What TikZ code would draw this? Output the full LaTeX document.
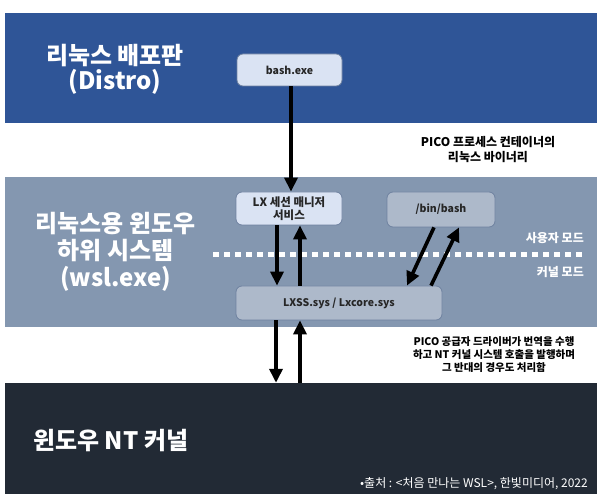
\documentclass[tikz,border=0pt]{standalone}
\usepackage{fontspec}
\setmainfont{Noto Sans CJK KR}
\usetikzlibrary{arrows.meta}
\definecolor{topblue}{HTML}{2F5597}
\definecolor{midslate}{HTML}{8497B0}
\definecolor{kerneldark}{HTML}{222A35}
\definecolor{lightbox}{HTML}{DAE3F3}
\definecolor{greybox}{HTML}{ADB9CA}
\definecolor{boxline}{HTML}{6F82A0}
\tikzset{
  band/.style={rectangle, inner sep=0pt, draw=none},
  procbox/.style={rectangle, rounded corners=6pt, draw=boxline, line width=0.8pt, inner sep=0pt,
    align=center, font=\bfseries\fontsize{10.5}{12}\selectfont, text=black!85},
  bigtitle/.style={align=center, text=white, font=\bfseries\fontsize{24}{25.5}\selectfont, inner sep=0pt},
  note/.style={align=center, text=black, font=\bfseries\fontsize{12}{15}\selectfont, inner sep=0pt},
  modelabel/.style={anchor=east, text=white, font=\bfseries\fontsize{12}{13}\selectfont, inner sep=0pt},
  arr/.style={line width=3.6pt, -{Triangle[width=13pt,length=14pt]}},
}
\begin{document}
\begin{tikzpicture}[x=1pt,y=-1pt]
\useasboundingbox (0,0) rectangle (600,502);
\fill[white] (0,0) rectangle (600,502);
% bands
\node[band, fill=topblue, minimum width=592pt, minimum height=110pt] (distro) at (301,68) {};
\node[band, fill=midslate, minimum width=592pt, minimum height=150pt] (wsl) at (301,252) {};
\node[band, fill=kerneldark, minimum width=592pt, minimum height=111pt] (kernel) at (301,438.5) {};
% band titles
\node[bigtitle] (distrotitle) at (115,69.5) {리눅스 배포판\\(Distro)};
\node[bigtitle, font=\bfseries\fontsize{24}{27}\selectfont] (wsltitle) at (115.5,252) {리눅스용 윈도우\\하위 시스템\\(wsl.exe)};
\node[bigtitle, anchor=west] (kerneltitle) at (33,441) {윈도우 NT 커널};
% boxes
\node[procbox, fill=lightbox, minimum width=105pt, minimum height=32pt] (bash) at (289.5,70) {bash.exe};
\node[procbox, fill=lightbox, minimum width=106pt, minimum height=33pt, font=\bfseries\fontsize{11.5}{12.5}\selectfont] (lx) at (289,208.5) {LX 세션 매니저\\서비스};
\node[procbox, fill=greybox, minimum width=108pt, minimum height=35pt] (binbash) at (441,209.5) {/bin/bash};
\node[procbox, fill=greybox, minimum width=206pt, minimum height=34pt] (lxss) at (339,303) {LXSS.sys / Lxcore.sys};
% mode separator
\coordinate (sepL) at (213,255);
\coordinate (sepR) at (584,255);
\draw[white, line width=5pt, dash pattern=on 6pt off 5pt] (sepL) -- (sepR);
\node[modelabel] (usermode) at (584,238) {사용자 모드};
\node[modelabel] (kernelmode) at (584,272) {커널 모드};
% notes
\node[note] (pico1) at (488,150) {PICO 프로세스 컨테이너의\\리눅스 바이너리};
\node[note, font=\bfseries\fontsize{10.5}{13}\selectfont] (pico2) at (494,355) {PICO 공급자 드라이버가 번역을 수행\\하고 NT 커널 시스템 호출을 발행하며\\그 반대의 경우도 처리함};
\node[anchor=east, text=white, font=\fontsize{12}{13}\selectfont, inner sep=0pt] (source) at (588,484) {•출처 : <처음 만나는 WSL>, 한빛미디어, 2022};
% arrows
\draw[arr] (bash.south -| 291,0) -- (lx.north -| 291,0);
\draw[arr] (lx.south -| 277,0) -- (lxss.north -| 277,0);
\draw[arr] (lxss.north -| 300,0) -- (lx.south -| 300,0);
\draw[arr] (binbash.south -| 434,0) -- (lxss.north -| 407,0);
\draw[arr] (lxss.north -| 431,0) -- (binbash.south -| 459,0);
\draw[arr] (lxss.south -| 276,0) -- (kernel.north -| 276,0);
\draw[arr] (kernel.north -| 300,0) -- (lxss.south -| 300,0);
\end{tikzpicture}
\end{document}
